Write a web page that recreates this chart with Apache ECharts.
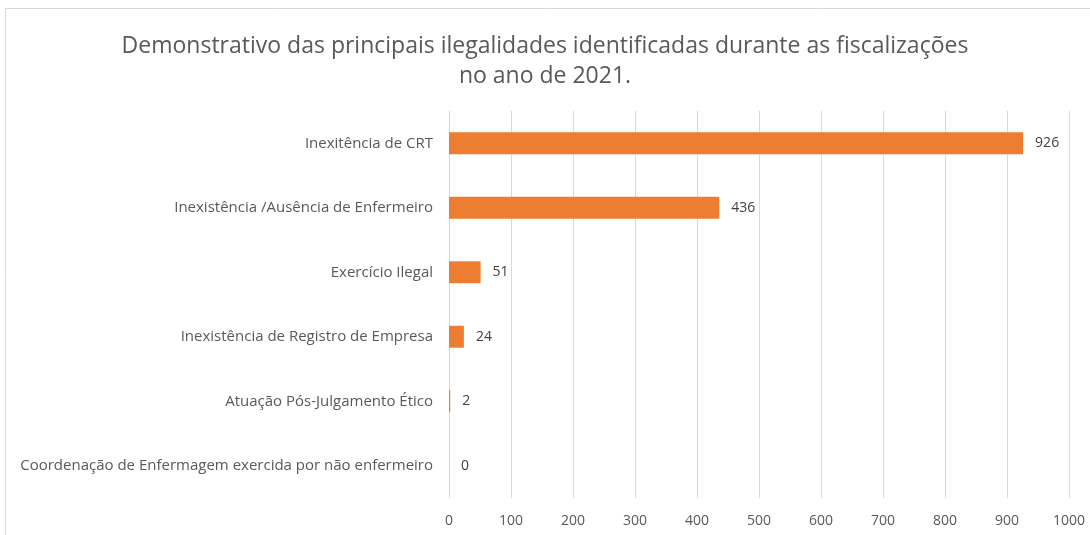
<!DOCTYPE html>
<html>
<head>
<meta charset="utf-8">
<script src="https://cdn.jsdelivr.net/npm/echarts@6/dist/echarts.min.js"></script>
<style>
  html, body { margin: 0; padding: 0; background: #fff; }
  #chart { width: 1090px; height: 535px; }
</style>
</head>
<body>
<div id="chart"></div>
<script>
// categories listed bottom to top (ECharts category y axis starts at the bottom)
var categories = [
    'Coordenação de Enfermagem exercida por não enfermeiro',
    'Atuação Pós-Julgamento Ético',
    'Inexistência de Registro de Empresa',
    'Exercício Ilegal',
    'Inexistência /Ausência de Enfermeiro',
    'Inexitência de CRT'
];
var values = [0, 2, 24, 51, 436, 926];
var xTicks = { min: 0, max: 1000, interval: 100 };

var chart = echarts.init(document.getElementById('chart'), null, { renderer: 'canvas' });

var option = {
    backgroundColor: '#fff',
    animation: false,
    title: {
        text: 'Demonstrativo das principais ilegalidades identificadas durante as fiscalizações\nno ano de 2021.',
        left: 'center',
        top: 26,
        textStyle: {
            fontFamily: 'Open Sans',
            fontWeight: 'normal',
            fontSize: 23,
            lineHeight: 30,
            color: '#595959'
        }
    },
    graphic: [
        {
            type: 'rect',
            shape: { x: 5.5, y: 8.5, width: 1100, height: 540 },
            style: { fill: 'none', stroke: '#d9d9d9', lineWidth: 1 },
            silent: true
        }
    ],
    grid: {
        left: 449,
        right: 21,
        top: 111,
        bottom: 37,
        containLabel: false
    },
    xAxis: {
        type: 'value',
        min: xTicks.min,
        max: xTicks.max,
        interval: xTicks.interval,
        axisLine: { show: false },
        axisTick: { show: false },
        splitLine: { show: true, lineStyle: { color: '#d9d9d9', width: 1 } },
        axisLabel: {
            color: '#595959',
            fontFamily: 'Open Sans',
            fontSize: 14,
            margin: 16,
            formatter: function (v) { return String(v); }
        }
    },
    yAxis: {
        type: 'category',
        data: categories,
        axisLine: { show: false },
        axisTick: { show: false },
        axisLabel: {
            color: '#595959',
            fontFamily: 'Open Sans',
            fontSize: 15,
            margin: 16
        }
    },
    series: [
        {
            type: 'bar',
            data: values,
            barWidth: '34%',
            itemStyle: { color: '#ed7d31' },
            label: {
                show: true,
                position: 'right',
                distance: 12,
                color: '#404040',
                fontFamily: 'Open Sans',
                fontSize: 14
            }
        }
    ]
};

chart.setOption(option);
</script>
</body>
</html>
